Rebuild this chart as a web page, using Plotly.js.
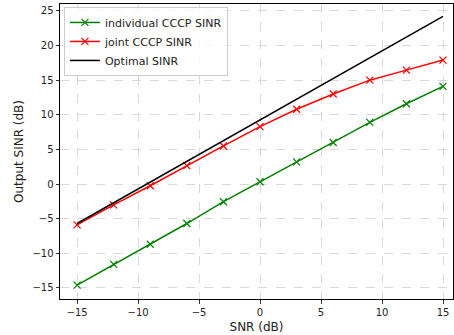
<!DOCTYPE html>
<html>
<head>
<meta charset="utf-8">
<script src="https://cdn.plot.ly/plotly-3.0.1.min.js"></script>
<style>html,body{margin:0;padding:0;background:#fff;}#chart{width:454px;height:335px;}</style>
</head>
<body>
<div id="chart"></div>
<script>
const snr = [-15, -12, -9, -6, -3, 0, 3, 6, 9, 12, 15];
const individualCCCP = [-14.6, -11.6, -8.7, -5.7, -2.55, 0.33, 3.2, 6.0, 8.9, 11.6, 14.1];
const jointCCCP = [-5.9, -3.0, -0.25, 2.65, 5.5, 8.3, 10.8, 13.0, 15.0, 16.45, 17.9];
const optimal = [-5.7, -2.7, 0.3, 3.3, 6.3, 9.3, 12.2, 15.2, 18.2, 21.3, 24.2];
const xTicks = [-15, -10, -5, 0, 5, 10, 15];
const yTicks = [-15, -10, -5, 0, 5, 10, 15, 20, 25];
const tickText = v => v < 0 ? '\u2212' + Math.abs(v) : String(v);

const mk = c => ({symbol: 'x-thin-open', size: 7, color: c, line: {color: c, width: 1.2}});
const traces = [
  {x: snr, y: individualCCCP, name: 'individual CCCP SINR', mode: 'lines+markers',
   line: {color: '#008000', width: 1.5}, marker: mk('#008000')},
  {x: snr, y: jointCCCP, name: 'joint CCCP SINR', mode: 'lines+markers',
   line: {color: '#ff0000', width: 1.5}, marker: mk('#ff0000')},
  {x: snr, y: optimal, name: 'Optimal SINR', mode: 'lines',
   line: {color: '#000000', width: 1.5}}
];
const axisCommon = {
  showline: true, mirror: true, linecolor: '#000', linewidth: 1,
  ticks: 'outside', ticklen: 3.5, tickwidth: 0.8, tickcolor: '#000',
  showgrid: true, gridcolor: '#cfcfcf', griddash: 'dash', gridwidth: 0.8,
  zeroline: false, tickfont: {family: 'DejaVu Sans', size: 10, color: '#222'}
};
const layout = {
  width: 454, height: 335,
  margin: {l: 60, r: 1, t: 4, b: 36},
  paper_bgcolor: '#fff', plot_bgcolor: '#fff',
  font: {family: 'DejaVu Sans', size: 10, color: '#222'},
  xaxis: Object.assign({}, axisCommon, {
    range: [-16.4, 15.82], tickvals: xTicks, ticktext: xTicks.map(tickText),
    title: {text: 'SNR (dB)', font: {family: 'DejaVu Sans', size: 12, color: '#222'}, standoff: 6}
  }),
  yaxis: Object.assign({}, axisCommon, {
    range: [-16.6, 26.0], tickvals: yTicks, ticktext: yTicks.map(tickText),
    title: {text: 'Output SINR (dB)', font: {family: 'DejaVu Sans', size: 12, color: '#222'}, standoff: 6}
  }),
  showlegend: true,
  legend: {x: 0.01, y: 0.99, xanchor: 'left', yanchor: 'top',
    bgcolor: 'rgba(255,255,255,0.8)', bordercolor: '#cccccc', borderwidth: 1,
    font: {family: 'DejaVu Sans', size: 11, color: '#222'}, tracegroupgap: 0, itemwidth: 30}
};
Plotly.newPlot('chart', traces, layout, {staticPlot: true, displayModeBar: false});
</script>
</body>
</html>
